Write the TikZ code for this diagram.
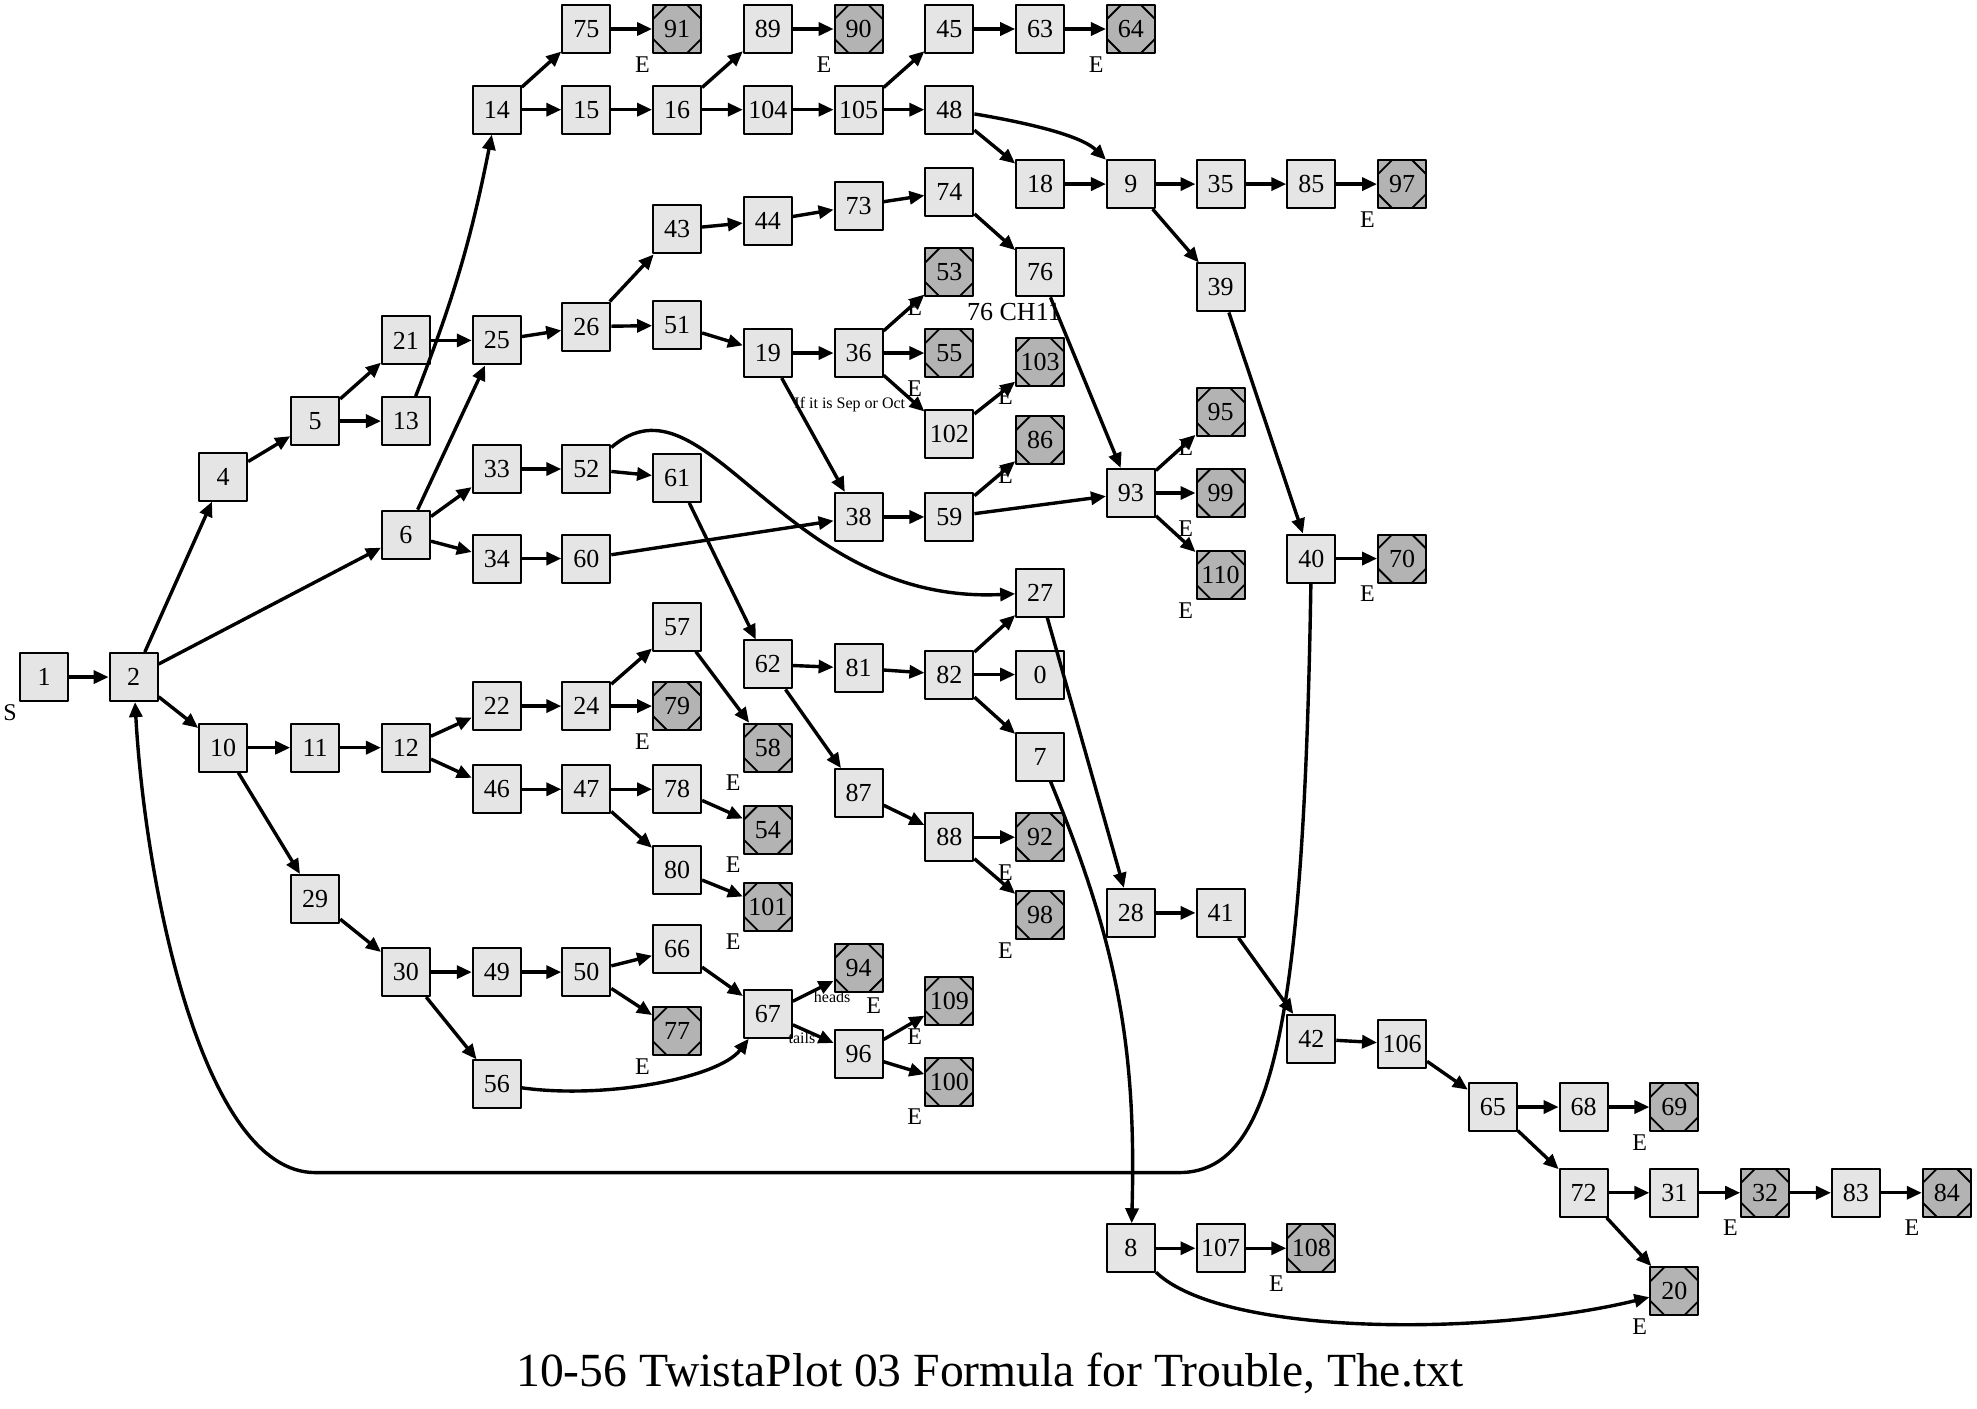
\documentclass[tikz,border=0pt]{standalone}
\usepackage{fontspec}
\setmainfont{Liberation Serif}
\usetikzlibrary{arrows.meta}

\begin{document}
\begin{tikzpicture}[x=0.6304pt,y=-0.6304pt,line join=round,
  state/.style={draw,line width=1pt,fill=boxfill,minimum size=24pt,inner sep=0pt,
    font=\fontsize{13}{15}\selectfont},
  stop/.style={state,fill=endfill,path picture={
    \draw[line width=0.9pt]
      ([xshift=7pt]path picture bounding box.north west) -- ([yshift=-7pt]path picture bounding box.north west)
      ([xshift=-7pt]path picture bounding box.north east) -- ([yshift=-7pt]path picture bounding box.north east)
      ([xshift=7pt]path picture bounding box.south west) -- ([yshift=7pt]path picture bounding box.south west)
      ([xshift=-7pt]path picture bounding box.south east) -- ([yshift=7pt]path picture bounding box.south east);}},
  stopE/.style={stop,label={[tag]below left:E}},
  tag/.style={inner sep=1pt,font=\fontsize{12}{14}\selectfont},
  note/.style={inner sep=0pt,font=\fontsize{8}{9}\selectfont},
  link/.style={line width=1.7pt,-{Triangle[length=7.5pt,width=6.5pt]}}]
  \definecolor{boxfill}{RGB}{229,229,229}
  \definecolor{endfill}{RGB}{179,179,179}

  % page
  \fill[white] (0,0) rectangle (1568,1117);
  \useasboundingbox (0,0) rectangle (1568,1117);

  % start
  \node[state,label={[tag]below left:S}] (n1) at (35,537) {1};
  \node[state] (n2) at (106,537) {2};

  % upper branch
  \node[state] (n4) at (177,378) {4};
  \node[state] (n5) at (250,334) {5};
  \node[state] (n21) at (322,270) {21};
  \node[state] (n13) at (322,334) {13};
  \node[state] (n14) at (394,87) {14};
  \node[state] (n75) at (465,23) {75};
  \node[stopE] (n91) at (537,23) {91};
  \node[state] (n15) at (465,87) {15};
  \node[state] (n16) at (537,87) {16};
  \node[state] (n89) at (609,23) {89};
  \node[stopE] (n90) at (681,23) {90};
  \node[state] (n104) at (609,87) {104};
  \node[state] (n105) at (681,87) {105};
  \node[state] (n45) at (753,23) {45};
  \node[state] (n63) at (825,23) {63};
  \node[stopE] (n64) at (897,23) {64};
  \node[state] (n48) at (753,87) {48};
  \node[state] (n18) at (825,146) {18};
  \node[state] (n9) at (897,146) {9};
  \node[state] (n35) at (968,146) {35};
  \node[state] (n85) at (1040,146) {85};
  \node[stopE] (n97) at (1112,146) {97};
  \node[state] (n39) at (968,228) {39};
  \node[state] (n40) at (1040,443) {40};
  \node[stopE] (n70) at (1112,443) {70};

  % middle branch
  \node[state] (n6) at (322,424) {6};
  \node[state] (n25) at (394,270) {25};
  \node[state] (n26) at (465,259) {26};
  \node[state] (n43) at (537,182) {43};
  \node[state] (n44) at (609,175) {44};
  \node[state] (n73) at (681,163) {73};
  \node[state] (n74) at (753,152) {74};
  \node[state,label={[tag,font=\fontsize{13}{15}\selectfont,anchor=north east,xshift=-1pt,yshift=-2pt]south east:76 CH11}] (n76) at (825,216) {76};
  \node[state] (n51) at (537,258) {51};
  \node[state] (n19) at (609,280) {19};
  \node[state] (n36) at (681,280) {36};
  \node[stopE] (n53) at (753,216) {53};
  \node[stopE] (n55) at (753,280) {55};
  \node[state] (n102) at (753,344) {102};
  \node[stopE] (n103) at (825,287) {103};
  \node[stopE] (n86) at (825,349) {86};
  \node[state] (n33) at (394,372) {33};
  \node[state] (n34) at (394,443) {34};
  \node[state] (n52) at (465,372) {52};
  \node[state] (n60) at (465,443) {60};
  \node[state] (n61) at (537,379) {61};
  \node[state] (n38) at (681,410) {38};
  \node[state] (n59) at (753,410) {59};
  \node[state] (n93) at (897,391) {93};
  \node[stopE] (n95) at (968,327) {95};
  \node[stopE] (n99) at (968,391) {99};
  \node[stopE] (n110) at (968,456) {110};
  \node[state] (n27) at (825,470) {27};
  \node[state] (n62) at (609,527) {62};
  \node[state] (n81) at (681,530) {81};
  \node[state] (n82) at (753,535) {82};
  \node[state] (n0) at (825,535) {0};
  \node[state] (n7) at (825,600) {7};
  \node[state] (n87) at (681,629) {87};
  \node[state] (n88) at (753,664) {88};
  \node[stopE] (n92) at (825,664) {92};
  \node[stopE] (n98) at (825,726) {98};

  % lower branch
  \node[state] (n10) at (177,593) {10};
  \node[state] (n11) at (250,593) {11};
  \node[state] (n12) at (322,593) {12};
  \node[state] (n22) at (394,560) {22};
  \node[state] (n24) at (465,560) {24};
  \node[state] (n57) at (537,497) {57};
  \node[stopE] (n79) at (537,560) {79};
  \node[stopE] (n58) at (609,593) {58};
  \node[state] (n46) at (394,626) {46};
  \node[state] (n47) at (465,626) {47};
  \node[state] (n78) at (537,626) {78};
  \node[stopE] (n54) at (609,658) {54};
  \node[state] (n80) at (537,690) {80};
  \node[stopE] (n101) at (609,719) {101};
  \node[state] (n29) at (250,713) {29};
  \node[state] (n30) at (322,771) {30};
  \node[state] (n49) at (394,771) {49};
  \node[state] (n50) at (465,771) {50};
  \node[state] (n66) at (537,753) {66};
  \node[stopE] (n77) at (537,818) {77};
  \node[state] (n56) at (394,860) {56};
  \node[state] (n67) at (609,804) {67};
  \node[stop,label={[tag,xshift=7.5pt,yshift=-1pt]below:E}] (n94) at (681,768) {94};
  \node[state] (n96) at (681,836) {96};
  \node[stopE] (n109) at (753,794) {109};
  \node[stopE] (n100) at (753,858) {100};

  % right tail
  \node[state] (n28) at (897,724) {28};
  \node[state] (n41) at (968,724) {41};
  \node[state] (n42) at (1040,824) {42};
  \node[state] (n106) at (1112,828) {106};
  \node[state] (n65) at (1184,878) {65};
  \node[state] (n68) at (1256,878) {68};
  \node[stopE] (n69) at (1328,878) {69};
  \node[state] (n72) at (1256,946) {72};
  \node[state] (n31) at (1328,946) {31};
  \node[stopE] (n32) at (1400,946) {32};
  \node[state] (n83) at (1472,946) {83};
  \node[stopE] (n84) at (1544,946) {84};
  \node[stopE] (n20) at (1328,1024) {20};
  \node[state] (n8) at (897,990) {8};
  \node[state] (n107) at (968,990) {107};
  \node[stopE] (n108) at (1040,990) {108};

  % edges
  \draw[link] (n1) -- (n2);
  \draw[link] (n2) -- (n4);
  \draw[link] (n2) -- (n6);
  \draw[link] (n2) -- (n10);
  \draw[link] (n4) -- (n5);
  \draw[link] (n5) -- (n21);
  \draw[link] (n5) -- (n13);
  \draw[link] (n21) -- (n25);
  \draw[link] (n13) to[bend right=5] (n14);
  \draw[link] (n14) -- (n75);
  \draw[link] (n14) -- (n15);
  \draw[link] (n75) -- (n91);
  \draw[link] (n15) -- (n16);
  \draw[link] (n16) -- (n89);
  \draw[link] (n16) -- (n104);
  \draw[link] (n89) -- (n90);
  \draw[link] (n104) -- (n105);
  \draw[link] (n105) -- (n45);
  \draw[link] (n105) -- (n48);
  \draw[link] (n45) -- (n63);
  \draw[link] (n63) -- (n64);
  \draw[link] (n48) .. controls (830,100) and (860,110) .. (n9);
  \draw[link] (n48) -- (n18);
  \draw[link] (n18) -- (n9);
  \draw[link] (n9) -- (n35);
  \draw[link] (n9) -- (n39);
  \draw[link] (n35) -- (n85);
  \draw[link] (n85) -- (n97);
  \draw[link] (n39) -- (n40);
  \draw[link] (n40) -- (n70);
  \coordinate (back1) at (935,930);
  \coordinate (back2) at (250,930);
  \draw[link] (n40) .. controls (1034,820) and (1008,930) .. (back1) -- (back2)
    .. controls (160,930) and (115,700) .. (n2);
  \draw[link] (n6) -- (n25);
  \draw[link] (n6) -- (n33);
  \draw[link] (n6) -- (n34);
  \draw[link] (n25) -- (n26);
  \draw[link] (n26) -- (n43);
  \draw[link] (n26) -- (n51);
  \draw[link] (n43) -- (n44);
  \draw[link] (n44) -- (n73);
  \draw[link] (n73) -- (n74);
  \draw[link] (n74) -- (n76);
  \draw[link] (n76) -- (n93);
  \draw[link] (n51) -- (n19);
  \draw[link] (n19) -- (n36);
  \draw[link] (n19) -- (n38);
  \draw[link] (n36) -- (n53);
  \draw[link] (n36) -- (n55);
  \draw[link] (n36) -- (n102);
  \draw[link] (n102) -- (n103);
  \draw[link] (n33) -- (n52);
  \draw[link] (n52) -- (n61);
  \draw[link] (n52) .. controls (560,290) and (620,480) .. (n27);
  \draw[link] (n34) -- (n60);
  \draw[link] (n60) -- (n38);
  \draw[link] (n61) -- (n62);
  \draw[link] (n38) -- (n59);
  \draw[link] (n59) -- (n86);
  \draw[link] (n59) -- (n93);
  \draw[link] (n93) -- (n95);
  \draw[link] (n93) -- (n99);
  \draw[link] (n93) -- (n110);
  \draw[link] (n27) -- (n28);
  \draw[link] (n62) -- (n81);
  \draw[link] (n62) -- (n87);
  \draw[link] (n81) -- (n82);
  \draw[link] (n82) -- (n27);
  \draw[link] (n82) -- (n0);
  \draw[link] (n82) -- (n7);
  \draw[link] (n7) to[bend left=12] (n8);
  \draw[link] (n87) -- (n88);
  \draw[link] (n88) -- (n92);
  \draw[link] (n88) -- (n98);
  \draw[link] (n28) -- (n41);
  \draw[link] (n41) -- (n42);
  \draw[link] (n42) -- (n106);
  \draw[link] (n106) -- (n65);
  \draw[link] (n65) -- (n68);
  \draw[link] (n65) -- (n72);
  \draw[link] (n68) -- (n69);
  \draw[link] (n72) -- (n31);
  \draw[link] (n72) -- (n20);
  \draw[link] (n31) -- (n32);
  \draw[link] (n32) -- (n83);
  \draw[link] (n83) -- (n84);
  \draw[link] (n8) -- (n107);
  \draw[link] (n107) -- (n108);
  \draw[link] (n8) .. controls (970,1060) and (1180,1060) .. (n20);
  \draw[link] (n10) -- (n11);
  \draw[link] (n10) -- (n29);
  \draw[link] (n11) -- (n12);
  \draw[link] (n12) -- (n22);
  \draw[link] (n12) -- (n46);
  \draw[link] (n22) -- (n24);
  \draw[link] (n24) -- (n57);
  \draw[link] (n24) -- (n79);
  \draw[link] (n57) -- (n58);
  \draw[link] (n46) -- (n47);
  \draw[link] (n47) -- (n78);
  \draw[link] (n47) -- (n80);
  \draw[link] (n78) -- (n54);
  \draw[link] (n80) -- (n101);
  \draw[link] (n29) -- (n30);
  \draw[link] (n30) -- (n49);
  \draw[link] (n30) -- (n56);
  \draw[link] (n49) -- (n50);
  \draw[link] (n50) -- (n66);
  \draw[link] (n50) -- (n77);
  \draw[link] (n66) -- (n67);
  \draw[link] (n56) .. controls (480,872) and (570,855) .. (n67);
  \draw[link] (n67) -- (n94);
  \draw[link] (n67) -- (n96);
  \draw[link] (n96) -- (n109);
  \draw[link] (n96) -- (n100);

  % edge notes
  \node[note] (sep) at (674,321) {If it is Sep or Oct};
  \node[note] (heads) at (660,791) {heads};
  \node[note] (tails) at (636,823) {tails};

  % title
  \node[anchor=base,font=\fontsize{23.8}{28}\selectfont] (title) at (785,1100)
    {10-56 TwistaPlot 03 Formula for Trouble, The.txt};
\end{tikzpicture}
\end{document}
